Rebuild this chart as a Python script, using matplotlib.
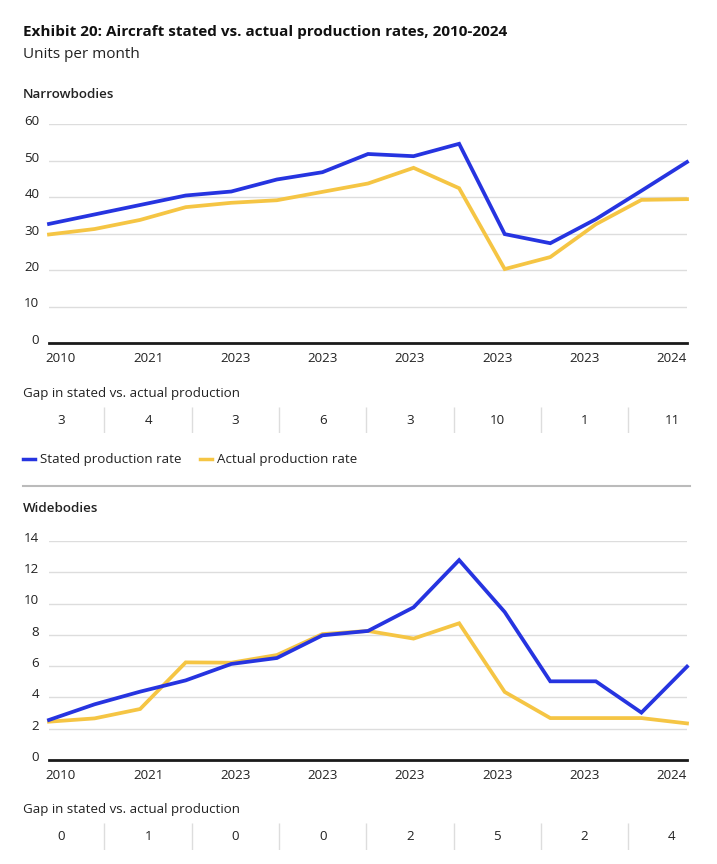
import numpy as np
import matplotlib
matplotlib.use('Agg')
import matplotlib.pyplot as plt
from matplotlib.lines import Line2D
from matplotlib.transforms import ScaledTranslation

plt.rcParams['font.family'] = ['Open Sans', 'DejaVu Sans']

years = list(range(2010, 2025))
tick_labels = ['2010', '2021', '2023', '2023', '2023', '2023', '2023', '2024']

narrow_stated = [32.7, 35.3, 37.9, 40.5, 41.6, 44.9, 46.9, 51.9, 51.3, 54.7, 29.9, 27.4, 34.0, 41.8, 49.7]
narrow_actual = [29.8, 31.3, 33.8, 37.3, 38.5, 39.2, 41.5, 43.8, 48.1, 42.5, 20.3, 23.6, 32.6, 39.3, 39.5]
narrow_gap = ['3', '4', '3', '6', '3', '10', '1', '11']

wide_stated = [2.56, 3.56, 4.37, 5.09, 6.14, 6.52, 7.97, 8.25, 9.76, 12.78, 9.46, 5.03, 5.03, 3.03, 5.97]
wide_actual = [2.45, 2.66, 3.26, 6.24, 6.22, 6.71, 8.05, 8.25, 7.76, 8.74, 4.35, 2.68, 2.68, 2.68, 2.34]
wide_gap = ['0', '1', '0', '0', '2', '5', '2', '4']

BLUE = '#2634e0'
YELLOW = '#f5c544'
TXT = '#222222'
GRID = '#dddddd'
FS = 9.6

W, H = 717, 864
fig = plt.figure(figsize=(W / 100, H / 100), dpi=100)


def box(x0, y0, x1, y1):
    # pixel box (top-left origin) -> figure fraction rect
    return [x0 / W, 1 - y1 / H, (x1 - x0) / W, (y1 - y0) / H]


def fx(px):
    return px / W


def fy(py):
    return 1 - py / H


x = np.arange(len(years))
label_pos = np.linspace(0.26, 13.67, len(tick_labels))


def line_panel(rect, stated, actual, ymax, step):
    ax = fig.add_axes(rect)
    ax.plot(x, stated, color=BLUE, lw=2.7, solid_joinstyle='miter', clip_on=False, zorder=4)
    ax.plot(x, actual, color=YELLOW, lw=2.7, solid_joinstyle='miter', clip_on=False, zorder=3)
    ax.set_xlim(0, 14)
    ax.set_ylim(0, ymax)
    ticks = np.arange(0, ymax + 0.1, step)
    ax.set_yticks(ticks)
    ax.set_yticklabels([f'{t:g}' for t in ticks])
    ax.yaxis.grid(True, color=GRID, lw=1)
    ax.set_axisbelow(True)
    for s in ['top', 'right', 'left']:
        ax.spines[s].set_visible(False)
    ax.spines['bottom'].set_color('#1a1a1a')
    ax.spines['bottom'].set_linewidth(2)
    ax.spines['bottom'].set_zorder(5)
    ax.tick_params(axis='y', length=0, pad=7, labelsize=FS, labelcolor=TXT)
    ax.tick_params(axis='x', length=0, pad=6.5, labelsize=FS, labelcolor=TXT)
    for lab in ax.get_yticklabels():
        lab.set_transform(lab.get_transform() + ScaledTranslation(0, 3 / 72, fig.dpi_scale_trans))
    ax.set_xticks(label_pos)
    ax.set_xticklabels(tick_labels)
    return ax


def gap_row(rect, vals):
    g = fig.add_axes(rect)
    g.set_xlim(0, 14)
    g.set_ylim(0, 1)
    g.axis('off')
    for p, v in zip(label_pos, vals):
        g.text(p, 0.5, v, ha='center', va='center', fontsize=FS, color=TXT)
    mids = (label_pos[:-1] + label_pos[1:]) / 2
    g.vlines(mids, 0, 1, color=GRID, lw=1)


# header
fig.text(fx(23), fy(32), 'Exhibit 20: Aircraft stated vs. actual production rates, 2010-2024',
         fontsize=11, fontweight='bold', color='#111111', va='center')
fig.text(fx(23), fy(55), 'Units per month', fontsize=11, color=TXT, va='center')

# narrowbodies
fig.text(fx(23), fy(94), 'Narrowbodies', fontsize=FS, fontweight='semibold', color=TXT, va='center')
line_panel(box(49, 124.5, 687, 343), narrow_stated, narrow_actual, 60, 10)
fig.text(fx(23), fy(393), 'Gap in stated vs. actual production', fontsize=FS, color=TXT, va='center')
gap_row(box(49, 407, 687, 433), narrow_gap)

# legend
fig.add_artist(Line2D([fx(23), fx(35)], [fy(459), fy(459)], color=BLUE, lw=2.5))
fig.text(fx(40), fy(459), 'Stated production rate', fontsize=FS, color=TXT, va='center')
fig.add_artist(Line2D([fx(200), fx(212)], [fy(459), fy(459)], color=YELLOW, lw=2.5))
fig.text(fx(217), fy(459), 'Actual production rate', fontsize=FS, color=TXT, va='center')
fig.add_artist(Line2D([fx(23), fx(690)], [fy(486), fy(486)], color='#bbbbbb', lw=1.5))

# widebodies
fig.text(fx(23), fy(509), 'Widebodies', fontsize=FS, fontweight='semibold', color=TXT, va='center')
line_panel(box(49, 541, 687, 760), wide_stated, wide_actual, 14, 2)
fig.text(fx(23), fy(809), 'Gap in stated vs. actual production', fontsize=FS, color=TXT, va='center')
gap_row(box(49, 823, 687, 850), wide_gap)

fig.savefig('out.png', dpi=100, facecolor='white')
